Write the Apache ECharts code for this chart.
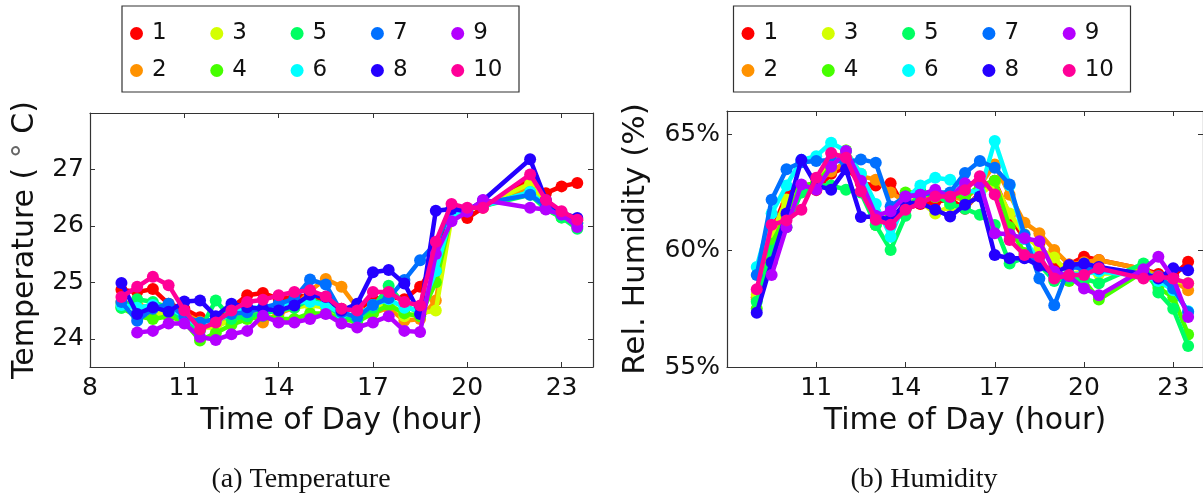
<!DOCTYPE html>
<html>
<head>
<meta charset="utf-8">
<script src="https://cdn.jsdelivr.net/npm/echarts@6/dist/echarts.min.js"></script>
<style>
  html, body { margin: 0; padding: 0; background: #fff; }
  #chart { width: 1203px; height: 497px; }
</style>
</head>
<body>
<div id="chart"></div>
<script>
// Sampling times (hour of day), one reading every half hour with a gap 20:30-22:00
const hours = [9, 9.5, 10, 10.5, 11, 11.5, 12, 12.5, 13, 13.5, 14, 14.5, 15, 15.5, 16, 16.5,
  17, 17.5, 18, 18.5, 19, 19.5, 20, 20.5, 22, 22.5, 23, 23.5];

const sensorNames = ['1', '2', '3', '4', '5', '6', '7', '8', '9', '10'];
const sensorColors = ['#ff0000', '#ff9200', '#d4ff00', '#46ff00', '#00ff62', '#00ffff',
  '#0070ff', '#2400ff', '#b400ff', '#ff0098'];

// Temperature (deg C) per sensor
const temp1 = [24.87, 24.83, 24.88, 24.62, 24.53, 24.38, 24.29, 24.55, 24.77, 24.81, 24.71, 24.74, 24.77, 24.68, 24.53, 24.50, 24.70, 24.75, 24.70, 24.92, 25.35, 26.30, 26.14, 26.32, 26.82, 26.58, 26.70, 26.76];
const temp2 = [24.65, 24.60, 24.55, 24.50, 24.45, 24.30, 24.25, 24.40, 24.45, 24.29, 24.45, 24.55, 24.85, 25.06, 24.92, 24.55, 24.45, 24.55, 24.32, 24.35, 24.68, 26.20, 26.30, 26.35, 26.70, 26.35, 26.20, 26.10];
const temp3 = [24.60, 24.55, 24.45, 24.45, 24.40, 24.20, 24.20, 24.35, 24.45, 24.45, 24.50, 24.55, 24.60, 24.55, 24.40, 24.35, 24.50, 24.65, 24.40, 24.45, 24.50, 26.15, 26.30, 26.35, 26.75, 26.35, 26.20, 26.05];
const temp4 = [24.55, 24.40, 24.35, 24.40, 24.30, 23.97, 24.10, 24.25, 24.35, 24.40, 24.35, 24.35, 24.45, 24.45, 24.35, 24.30, 24.45, 24.60, 24.45, 24.40, 25.00, 26.20, 26.30, 26.35, 26.60, 26.30, 26.15, 26.00];
const temp5 = [24.55, 24.70, 24.65, 24.55, 24.30, 24.15, 24.68, 24.35, 24.40, 24.45, 24.50, 24.55, 24.70, 24.60, 24.40, 24.35, 24.55, 24.94, 24.60, 24.45, 25.20, 26.20, 26.30, 26.35, 26.55, 26.30, 26.15, 25.95];
const temp6 = [24.60, 24.55, 24.60, 24.55, 24.40, 24.20, 24.30, 24.45, 24.55, 24.55, 24.60, 24.65, 24.65, 24.60, 24.45, 24.40, 24.60, 24.70, 24.55, 24.50, 25.20, 26.20, 26.30, 26.35, 26.60, 26.35, 26.20, 26.05];
const temp7 = [24.65, 24.32, 24.53, 24.62, 24.40, 24.29, 24.35, 24.44, 24.47, 24.55, 24.62, 24.71, 25.05, 24.96, 24.47, 24.38, 24.60, 24.72, 25.04, 25.39, 25.69, 26.30, 26.30, 26.40, 26.55, 26.35, 26.20, 26.05];
const temp8 = [24.99, 24.44, 24.56, 24.48, 24.66, 24.68, 24.40, 24.62, 24.56, 24.53, 24.50, 24.59, 24.78, 24.74, 24.50, 24.62, 25.18, 25.22, 24.98, 24.44, 26.27, 26.30, 26.26, 26.45, 27.18, 26.46, 26.23, 26.14];
const temp9 = [null, 24.11, 24.14, 24.27, 24.27, 24.03, 23.98, 24.08, 24.14, 24.41, 24.29, 24.29, 24.35, 24.44, 24.27, 24.20, 24.29, 24.40, 24.14, 24.12, 25.50, 26.08, 26.25, 26.46, 26.32, 26.29, 26.20, 25.98];
const temp10 = [24.74, 24.92, 25.10, 24.95, 24.50, 24.17, 24.29, 24.50, 24.65, 24.69, 24.77, 24.83, 24.86, 24.75, 24.53, 24.50, 24.83, 24.83, 24.65, 24.59, 25.72, 26.39, 26.32, 26.32, 26.91, 26.46, 26.26, 26.11];

// Relative humidity (%) per sensor
const hum1 = [58.0, 60.8, 62.4, 62.8, 62.6, 63.3, 63.6, 62.9, 62.8, 62.9, 61.8, 62.0, 62.1, 62.2, 61.8, 62.5, 63.0, 61.5, 60.5, 60.3, 59.3, 59.4, 59.74, 59.6, 59.2, 59.0, 58.9, 59.52];
const hum2 = [57.9, 60.5, 62.0, 62.6, 62.9, 63.4, 63.8, 63.2, 63.05, 62.5, 62.1, 62.2, 62.3, 62.3, 62.2, 62.8, 63.7, 62.4, 61.2, 60.75, 60.03, 59.4, 59.5, 59.6, 59.2, 58.9, 58.7, 58.3];
const hum3 = [58.1, 60.7, 62.2, 62.5, 63.0, 63.8, 64.3, 63.3, 61.6, 61.2, 61.9, 62.1, 61.6, 61.9, 61.9, 62.4, 62.9, 61.6, 60.7, 60.1, 59.7, 59.0, 59.1, 59.0, 59.1, 58.8, 58.7, 58.6];
const hum4 = [57.5, 60.3, 61.5, 62.8, 62.9, 63.6, 64.3, 63.0, 61.1, 61.6, 62.5, 62.5, 62.3, 62.4, 62.3, 62.8, 63.0, 61.0, 59.9, 59.5, 59.0, 58.7, 58.7, 57.9, 59.1, 58.4, 58.0, 56.4];
const hum5 = [57.8, 60.0, 61.0, 62.5, 62.8, 62.8, 62.62, 62.5, 61.1, 60.03, 61.5, 62.55, 62.4, 62.0, 61.8, 61.54, 61.1, 59.45, 59.7, 59.4, 58.7, 58.8, 58.8, 58.6, 59.45, 58.2, 57.5, 55.9];
const hum6 = [59.3, 61.6, 62.8, 63.9, 64.06, 64.64, 64.28, 63.3, 62.0, 60.6, 62.19, 62.8, 63.13, 63.05, 62.6, 62.5, 64.71, 62.8, 60.5, 59.5, 58.9, 59.0, 59.0, 59.1, 58.9, 58.7, 58.3, 57.4];
const hum7 = [58.95, 62.19, 63.5, 63.8, 63.85, 63.9, 63.8, 63.92, 63.78, 61.9, 62.33, 62.4, 62.5, 62.5, 63.34, 63.85, 63.56, 62.84, 60.68, 58.8, 57.65, 59.3, 59.24, 59.2, 58.95, 58.9, 58.37, 57.36];
const hum8 = [57.33, 59.5, 61.6, 63.9, 62.8, 62.62, 63.5, 61.45, 61.47, 61.33, 62.05, 62.05, 61.76, 61.47, 61.97, 62.33, 59.81, 59.67, 59.67, 59.35, 59.0, 59.38, 59.45, 59.3, 59.0, 58.8, 59.24, 59.16];
const hum9 = [null, 58.95, 61.0, 62.84, 62.62, 63.6, 64.28, 63.0, 61.5, 61.69, 62.33, 62.4, 62.62, 62.3, 62.9, 62.9, 60.75, 60.7, 60.53, 60.4, 59.1, 58.9, 58.37, 58.08, 59.2, 59.74, 58.8, 57.15];
const hum10 = [58.34, 61.11, 61.3, 61.76, 63.13, 64.2, 63.99, 62.55, 61.33, 61.11, 61.76, 62.05, 62.33, 62.33, 62.6, 63.2, 62.41, 60.46, 59.81, 59.74, 58.8, 58.95, 58.95, 59.24, 58.8, 58.88, 58.8, 58.6];

const tempSets = [temp1, temp2, temp3, temp4, temp5, temp6, temp7, temp8, temp9, temp10];
const humSets = [hum1, hum2, hum3, hum4, hum5, hum6, hum7, hum8, hum9, hum10];

// Axis ticks
const hourTicks = { min: 8, max: 24, interval: 3 };
const tempTickValues = [24, 25, 26, 27];
const humTicks = { min: 55, max: 66, interval: 5 };

const FONT = 'DejaVu Sans';
const INK = '#111';
const FRAME = '#333';

function pairs(values) {
  const out = [];
  values.forEach((v, i) => { if (v !== null) out.push([hours[i], v]); });
  return out;
}

function makeSeries(sets, axisIdx) {
  return sets.map((vals, i) => ({
    name: sensorNames[i],
    type: 'line',
    xAxisIndex: axisIdx,
    yAxisIndex: axisIdx,
    data: pairs(vals),
    symbol: 'circle',
    symbolSize: 12,
    showSymbol: true,
    color: sensorColors[i],
    lineStyle: { width: 4.5, color: sensorColors[i] },
    itemStyle: { color: sensorColors[i] },
    emphasis: { disabled: true },
    z: 2 + i
  }));
}

const tick = { show: true, inside: true, length: 5, lineStyle: { color: FRAME, width: 1 } };
const frameLine = { show: true, lineStyle: { color: FRAME, width: 1.2 } };
const tickLabel = { color: INK, fontFamily: FONT, fontSize: 25 };

function xAxes(gridIndex, hideFirst) {
  return [
    {
      type: 'value', gridIndex, position: 'bottom', ...hourTicks,
      axisLine: frameLine, axisTick: tick, splitLine: { show: false },
      axisLabel: {
        ...tickLabel, margin: 9, showMinLabel: true, showMaxLabel: false,
        formatter: v => (hideFirst && v === hourTicks.min) ? '' : String(v)
      },
      name: 'Time of Day (hour)', nameLocation: 'middle', nameGap: 30,
      nameTextStyle: { color: INK, fontFamily: FONT, fontSize: 30 }
    },
    {
      type: 'value', gridIndex, position: 'top', ...hourTicks,
      axisLine: frameLine, axisTick: tick, splitLine: { show: false },
      axisLabel: { show: false }
    }
  ];
}

// Legend: two rows, five columns, filled column by column (1,2 | 3,4 | ...)
const legendText = { color: INK, fontFamily: FONT, fontSize: 23, padding: [0, 0, 0, 4] };
function legends(left) {
  return sensorNames.map((name, i) => ({
    data: [name],
    left: left + Math.floor(i / 2) * 80.3,
    top: i % 2 === 0 ? 22 : 59,
    icon: 'circle',
    itemWidth: 13,
    itemHeight: 13,
    padding: 0,
    selectedMode: false,
    textStyle: legendText
  }));
}

const option = {
  animation: false,
  backgroundColor: '#fff',
  grid: [
    { left: 90, top: 113, width: 503, height: 254, show: false, containLabel: false, outerBoundsMode: 'none' },
    { left: 727, top: 111, width: 476, height: 256, show: false, containLabel: false, outerBoundsMode: 'none' }
  ],
  legend: [...legends(130), ...legends(741.5)],
  xAxis: [...xAxes(0, false), ...xAxes(1, true)],
  yAxis: [
    {
      type: 'value', gridIndex: 0, position: 'left', min: 23.5, max: 28,
      axisLine: frameLine, splitLine: { show: false },
      axisTick: { ...tick, customValues: tempTickValues },
      axisLabel: { ...tickLabel, margin: 6, customValues: tempTickValues },
      name: 'Temperature ( {d|°} C)', nameLocation: 'middle', nameGap: 50, nameRotate: 90,
      nameTextStyle: {
        color: INK, fontFamily: FONT, fontSize: 30,
        rich: { d: { color: '#666', fontFamily: FONT, fontSize: 30 } }
      }
    },
    {
      type: 'value', gridIndex: 0, position: 'right', min: 23.5, max: 28,
      axisLine: frameLine, splitLine: { show: false },
      axisTick: { ...tick, customValues: tempTickValues },
      axisLabel: { show: false }
    },
    {
      type: 'value', gridIndex: 1, position: 'left', ...humTicks,
      axisLine: frameLine, splitLine: { show: false }, axisTick: tick,
      axisLabel: { ...tickLabel, margin: 7, formatter: '{value}%' },
      name: 'Rel. Humidity (%)', nameLocation: 'middle', nameGap: 76, nameRotate: 90,
      nameTextStyle: { color: INK, fontFamily: FONT, fontSize: 31 }
    },
    {
      type: 'value', gridIndex: 1, position: 'right', ...humTicks,
      axisLine: frameLine, splitLine: { show: false }, axisTick: tick,
      axisLabel: { show: false }
    }
  ],
  graphic: [
    { type: 'rect', shape: { x: 122, y: 6, width: 397, height: 86 }, style: { fill: 'none', stroke: FRAME, lineWidth: 1.2 }, silent: true },
    { type: 'rect', shape: { x: 733.5, y: 6, width: 397, height: 86 }, style: { fill: 'none', stroke: FRAME, lineWidth: 1.2 }, silent: true },
    { type: 'text', x: 301, y: 480, style: { text: '(a) Temperature', fill: INK, font: '28px "Liberation Serif"', textAlign: 'center', textVerticalAlign: 'middle' }, silent: true },
    { type: 'text', x: 924, y: 480, style: { text: '(b) Humidity', fill: INK, font: '28px "Liberation Serif"', textAlign: 'center', textVerticalAlign: 'middle' }, silent: true }
  ],
  series: [...makeSeries(tempSets, 0), ...makeSeries(humSets, 2)]
};

const chart = echarts.init(document.getElementById('chart'), null, { renderer: 'canvas' });
chart.setOption(option);
</script>
</body>
</html>
